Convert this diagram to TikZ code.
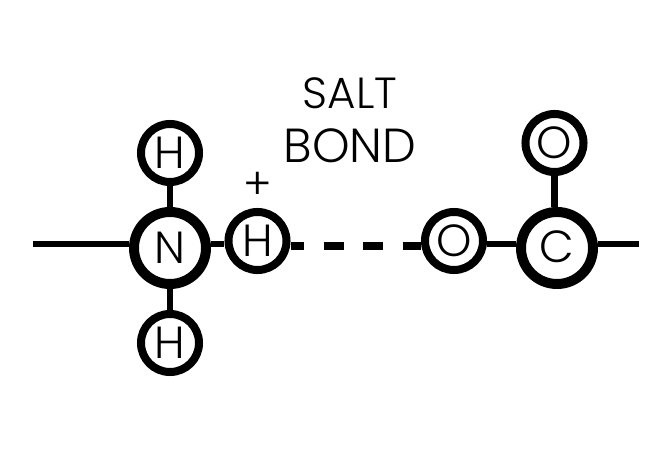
\documentclass[tikz,border=0pt]{standalone}
\usepackage{fontspec}
\setmainfont{Poppins Light}
\usetikzlibrary{positioning,calc}
\tikzset{
atombig/.style={draw=black,fill=white,circle,line width=7.1pt,minimum size=1.8cm,inner sep=0pt,font=\fontsize{32}{34}\selectfont},
atomsmall/.style={draw=black,fill=white,circle,line width=5.7pt,minimum size=1.45cm,inner sep=0pt,font=\fontsize{32}{34}\selectfont},
bondline/.style={line width=4.3pt,draw=black},
saltline/.style={line width=5pt,draw=black,dash pattern=on 14.2pt off 13.9pt,dash phase=4.6pt},
lab/.style={font=\fontsize{31}{33}\selectfont,text=black,inner sep=0pt}}
\begin{document}
\begin{tikzpicture}[x=.025cm,y=-.025cm]
\useasboundingbox (0,0) rectangle (672,452);
\node[lab] (salt) at (350,93) {SALT};
\node[lab,font=\fontsize{34}{36}\selectfont] (bond) at (350,146) {BOND};
\node[lab] (plus) at (258,186) {+};
\node[atombig] (n) at (170,248) {N};
\node[atomsmall] (ht) at (170,153) {H};
\node[atomsmall] (hb) at (170,343) {H};
\node[atomsmall] (hr) at (257.5,241) {H};
\node[atomsmall] (ol) at (454,241) {O};
\node[atombig] (c) at (557,248) {\raisebox{2pt}{C}};
\node[atomsmall] (ot) at (554.5,143) {O};
\coordinate (lf) at (33,244);
\coordinate (rf) at (639,244);
\draw[bondline] (lf)--(n.west |- lf);
\draw[bondline] (n.east |- lf)--(hr.west |- lf);
\draw[bondline] (ht.south -| n)--(n.north);
\draw[bondline] (n.south)--(hb.north -| n);
\draw[saltline] (hr.east |- 0,246)--(ol.west |- 0,246);
\draw[bondline] (ol.east |- lf)--(c.west |- lf);
\draw[bondline] (c.east |- rf)--(rf);
\draw[bondline] (ot.south)--(ot.south |- c.north);
\end{tikzpicture}
\end{document}
